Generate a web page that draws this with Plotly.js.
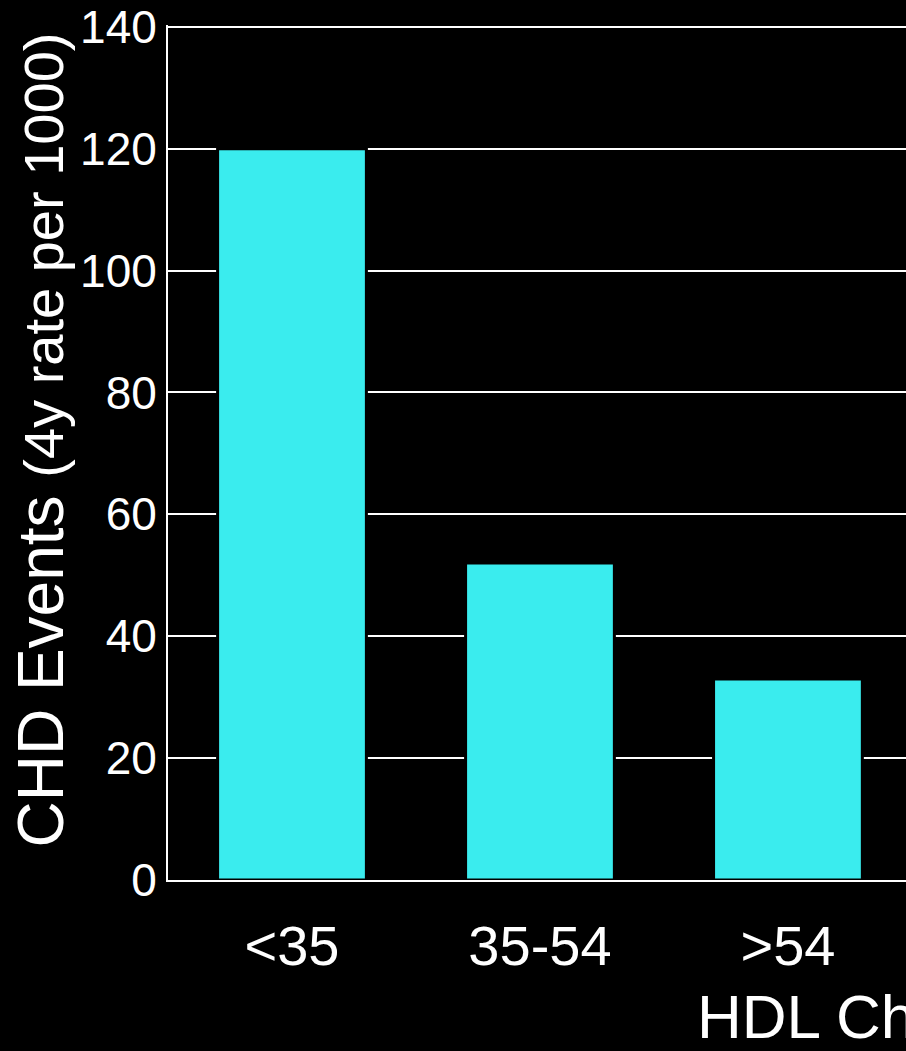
<!DOCTYPE html>
<html><head><meta charset="utf-8">
<script src="https://cdn.plot.ly/plotly-3.0.1.min.js"></script>
<style>html,body{margin:0;padding:0;background:#000;overflow:hidden}</style>
</head><body><div id="chart" style="width:906px;height:1051px"></div>
<script>
const categories = ["<35", "35-54", ">54"];
const chdRates = [120, 52, 33];
const yTicks = [0, 20, 40, 60, 80, 100, 120, 140];
const xTitle = "HDL Cholesterol (mg/dL)";
const yTitleMain = "CHD Events";
const yTitleSub = "(4y rate per 1000)";

const font = "Arial, 'Liberation Sans', sans-serif";
Plotly.newPlot("chart", [{
  type: "bar",
  x: categories,
  y: chdRates,
  marker: {color: "#3aecee", line: {color: "#000", width: 3}},
  hoverinfo: "skip"
}], {
  width: 906, height: 1051,
  paper_bgcolor: "#000", plot_bgcolor: "#000",
  margin: {l: 168, r: 0, t: 25, b: 171},
  bargap: 0.4,
  showlegend: false,
  font: {family: font, color: "#fff"},
  xaxis: {
    range: [-0.5, 2.476],
    showgrid: false, zeroline: false,
    showline: true, linecolor: "#fff", linewidth: 2,
    ticks: "", ticklabelstandoff: 16,
    tickfont: {size: 56, color: "#fff", family: font}
  },
  yaxis: {
    range: [0, 140.3],
    tickvals: yTicks,
    showgrid: true, gridcolor: "#fff", gridwidth: 2,
    zeroline: false,
    showline: true, linecolor: "#fff", linewidth: 2,
    ticks: "", ticklabelstandoff: 0,
    tickfont: {size: 46, color: "#fff", family: font}
  },
  annotations: [{
    text: xTitle, xref: "x", yref: "paper", x: 1.625, y: 0,
    xanchor: "left", yanchor: "top", yshift: -100, showarrow: false,
    font: {size: 62, color: "#fff", family: font}
  }, {
    text: yTitleMain + " <span style='font-size:56px'>" + yTitleSub + "</span>",
    xref: "paper", yref: "paper", x: -0.1734, y: 0.514,
    xanchor: "center", yanchor: "middle", textangle: -90, showarrow: false,
    font: {size: 64, color: "#fff", family: font}
  }]
}, {staticPlot: true});
</script></body></html>
